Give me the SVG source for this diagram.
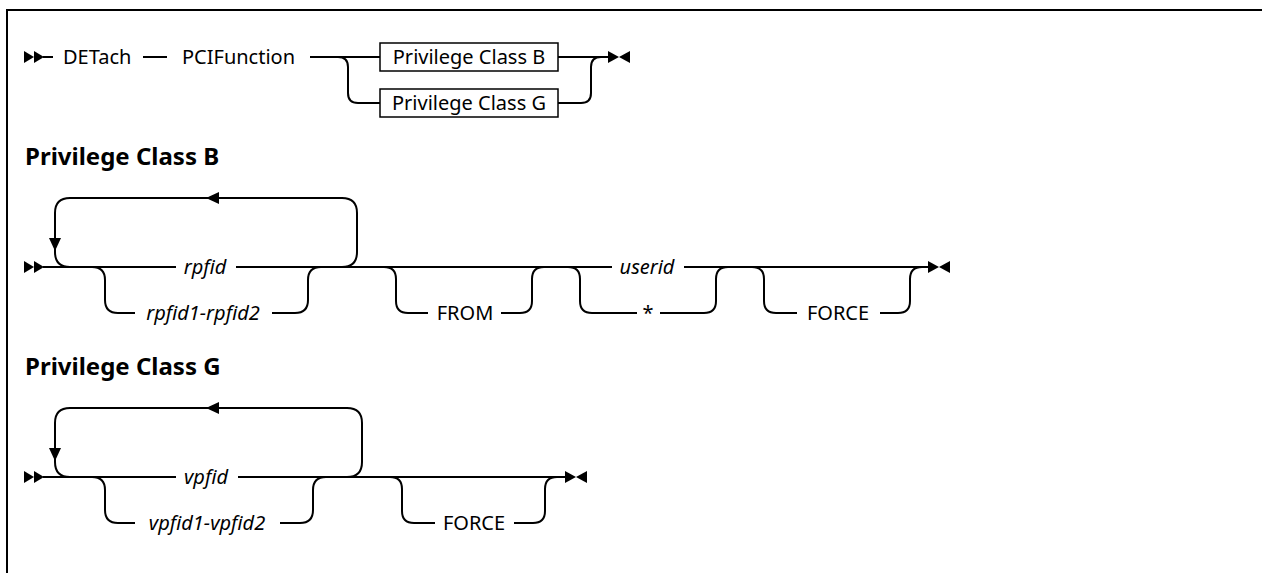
<svg xmlns="http://www.w3.org/2000/svg" width="1262" height="573" viewBox="0 0 1262 573">
<style>
.ln{fill:none;stroke:#000;stroke-width:2}
.t{font-family:"Noto Sans","Open Sans",sans-serif;font-size:20px;fill:#000}
.i{font-style:italic}
.m{text-anchor:middle}
.h{font-family:"Noto Sans","Open Sans",sans-serif;font-size:24px;font-weight:bold;fill:#000}
.box{fill:#fff;stroke:#000;stroke-width:1.5}
</style>
<rect width="1262" height="573" fill="#fff"/>
<path class="ln" d="M7,573 V10 H1262" stroke-width="2.5"/>

<g id="row1">
  <polygon points="24,51 34,57 24,63"/><polygon points="34,51 44,57 34,63"/>
  <text class="t" x="63" y="64">DETach</text>
  <text class="t" x="182" y="64">PCIFunction</text>
</g>
<g id="boxB">
  <rect class="box" x="380" y="43" width="178" height="28"/>
  <text class="t m" x="469" y="64">Privilege Class B</text>
</g>
<g id="boxG">
  <rect class="box" x="380" y="89" width="178" height="28"/>
  <text class="t m" x="469" y="110">Privilege Class G</text>
</g>

<g id="headB"><text class="h" x="25" y="165">Privilege Class B</text></g>
<g id="nodesB">
  <polygon points="24,261 34,267 24,273"/><polygon points="34,261 44,267 34,273"/>
  <text class="t i m" x="205" y="274">rpfid</text>
  <text class="t i m" x="203" y="320">rpfid1-rpfid2</text>
  <text class="t m" x="465" y="320">FROM</text>
  <text class="t i m" x="647" y="274">userid</text>
  <text class="t m" x="648" y="320">*</text>
  <text class="t m" x="838" y="320">FORCE</text>
</g>

<g id="headG"><text class="h" x="25" y="375">Privilege Class G</text></g>
<g id="nodesG">
  <polygon points="24,471 34,477 24,483"/><polygon points="34,471 44,477 34,483"/>
  <text class="t i m" x="206" y="484">vpfid</text>
  <text class="t i m" x="207" y="530">vpfid1-vpfid2</text>
  <text class="t m" x="474" y="530">FORCE</text>
</g>

<g id="connectors">
  <!-- row 1 -->
  <path class="ln" d="M43,57 H53 M143,57 H167 M310,57 H380 M338,57 q10,0 10,10 V93 q0,10 10,10 H380 M558,57 H608 M558,103 H581 q10,0 10,-10 V67 q0,-10 10,-10"/>
  <polygon points="608,51 619,57 608,63"/><polygon points="630,51 619,57 630,63"/>
  <!-- section B -->
  <path class="ln" d="M43,267 H176 M236,267 H612 M684,267 H928"/>
  <path class="ln" d="M70,267 q-15,0 -15,-15 V213 q0,-15 15,-15 H342 q15,0 15,15 V252 q0,15 -15,15"/>
  <polygon points="49,238 61,238 55,251"/>
  <polygon points="206,198 219,192 219,204"/>
  <path class="ln" d="M92,267 q13,0 13,13 V300 q0,13 13,13 H135 M272,313 H295 q13,0 13,-13 V280 q0,-13 13,-13"/>
  <path class="ln" d="M384,267 q12,0 12,12 V301 q0,12 12,12 H428 M501,313 H520 q12,0 12,-12 V279 q0,-12 12,-12"/>
  <path class="ln" d="M568,267 q12,0 12,12 V301 q0,12 12,12 H637 M660,313 H704 q12,0 12,-12 V279 q0,-12 12,-12"/>
  <path class="ln" d="M752,267 q12,0 12,12 V301 q0,12 12,12 H797 M880,313 H898 q12,0 12,-12 V279 q0,-12 12,-12"/>
  <polygon points="928,261 939,267 928,273"/><polygon points="950,261 939,267 950,273"/>
  <!-- section G -->
  <path class="ln" d="M43,477 H176 M238,477 H565"/>
  <path class="ln" d="M70,477 q-15,0 -15,-15 V423 q0,-15 15,-15 H347 q15,0 15,15 V462 q0,15 -15,15"/>
  <polygon points="49,448 61,448 55,461"/>
  <polygon points="206,408 219,402 219,414"/>
  <path class="ln" d="M92,477 q13,0 13,13 V510 q0,13 13,13 H135 M280,523 H300 q13,0 13,-13 V490 q0,-13 13,-13"/>
  <path class="ln" d="M390,477 q12,0 12,12 V511 q0,12 12,12 H435 M514,523 H533 q12,0 12,-12 V489 q0,-12 12,-12"/>
  <polygon points="565,471 576,477 565,483"/><polygon points="587,471 576,477 587,483"/>
</g>
</svg>
